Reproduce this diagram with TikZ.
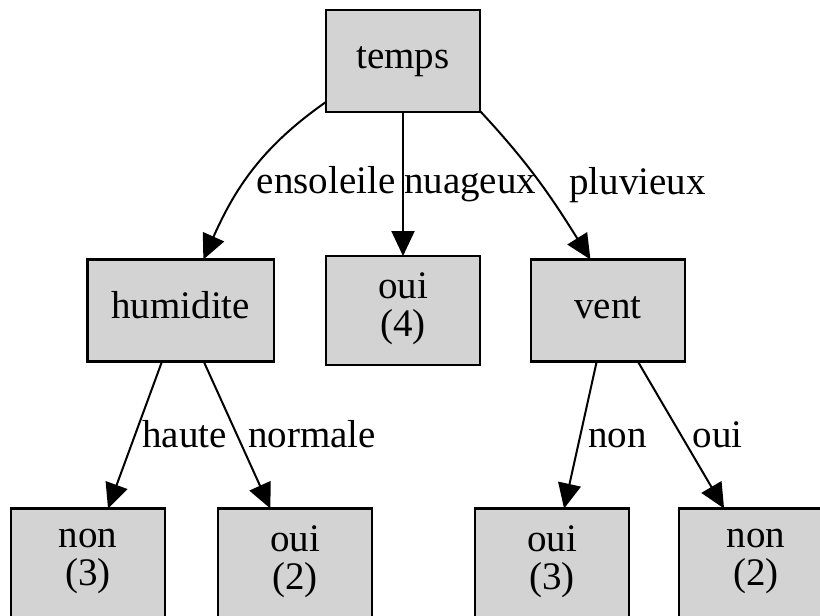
\documentclass[tikz,border=0pt]{standalone}
\usepackage{fontspec}
\setmainfont{Liberation Serif}
\usepackage{tikz}
\usetikzlibrary{positioning,arrows.meta}
\definecolor{gris}{HTML}{D3D3D3}

\begin{document}
\begin{tikzpicture}[x=0.5pt,y=-0.5pt,
		font=\fontsize{19.5}{19}\selectfont,
		execute at begin node=\strut,
		noeud/.style={draw,line width=1.2pt,outer sep=0pt,fill=gris,minimum width=77pt,minimum height=51pt,inner xsep=12pt,inner ysep=2pt,align=center},
		feuille/.style={noeud,minimum height=54.5pt},
		arc/.style={line width=1pt,-{Triangle[length=12.5pt,width=11.5pt]}},
		etiq/.style={anchor=west,inner sep=4pt}]
		\useasboundingbox (0,0) rectangle (820,616);
		\node(1) [noeud] at (403,61) {temps};
		\node(3) [feuille,below=72pt of 1] {oui\\(4)};
		\node(2) [noeud,left=26pt of 3] {humidite};
		\node(4) [noeud,right=25.5pt of 3] {vent};
		\node(5) [feuille] at (88,563) {non\\(3)};
		\node(6) [feuille,right=26.5pt of 5] {oui\\(2)};
		\node(7) [feuille,right=51.5pt of 6] {oui\\(3)};
		\node(8) [feuille,right=25pt of 7] {non\\(2)};
		\path[arc]
			(1.-152) edge[out=215,in=66] node(e1) [etiq,pos=0.6,xshift=3pt] {ensoleile} (2)
			(1) edge node(e2) [etiq,pos=0.51,xshift=-4pt] {nuageux} (3)
			(1.-33) edge[out=-47,in=122] node(e3) [etiq,pos=0.53,xshift=9pt] {pluvieux} (4.109)
			(2) edge node(e4) [etiq,pos=0.53] {haute} (5)
			(2) edge node(e5) [etiq,pos=0.53] {normale} (6)
			(4) edge node(e6) [etiq,pos=0.53] {non} (7)
			(4) edge node(e7) [etiq,pos=0.53] {oui} (8);
\end{tikzpicture}
\end{document}
